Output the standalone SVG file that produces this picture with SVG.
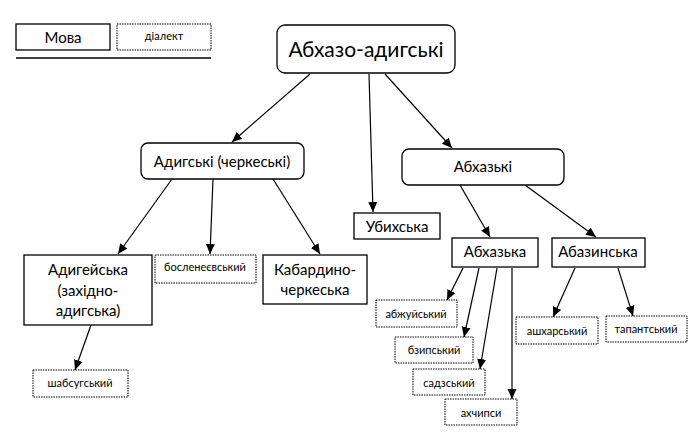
<svg xmlns="http://www.w3.org/2000/svg" width="700" height="433" viewBox="0 0 700 433">
<defs>
<marker id="ah" viewBox="0 0 10 10" refX="10" refY="5" markerWidth="10" markerHeight="10" markerUnits="userSpaceOnUse" orient="auto">
<path d="M0,0.5 L10,5 L0,9.5 Z" fill="#000"/>
</marker>
</defs>
<style>
text{font-family:"Lato","Liberation Sans",sans-serif;fill:#000;text-anchor:middle}
.lang{fill:#fff;stroke:#000;stroke-width:1.3}
.dial{fill:#fff;stroke:#000;stroke-width:1;stroke-dasharray:1.5 1}
.t15{font-size:15px}
.t11{font-size:11px}
#edges line{stroke:#000;stroke-width:1.2;marker-end:url(#ah)}
</style>
<rect width="700" height="433" fill="#fff"/>
<g id="legend">
<rect class="lang" x="16" y="24" width="94" height="26"/>
<text class="t15" x="63" y="43">Мова</text>
<rect class="dial" x="117" y="24" width="94" height="26"/>
<text class="t11" x="164" y="40">діалект</text>
<line x1="16" y1="58" x2="211" y2="58" stroke="#000" stroke-width="1.3"/>
</g>
<g id="edges">
<line x1="310" y1="74" x2="232" y2="142"/>
<line x1="369" y1="74" x2="373" y2="212"/>
<line x1="385" y1="74" x2="452" y2="148"/>
<line x1="172" y1="179" x2="118" y2="254"/>
<line x1="213" y1="179" x2="210" y2="254"/>
<line x1="273" y1="179" x2="320" y2="254"/>
<line x1="460" y1="185" x2="490" y2="237"/>
<line x1="525" y1="185" x2="596" y2="237"/>
<line x1="463" y1="268" x2="447" y2="300"/>
<line x1="479" y1="268" x2="464" y2="337"/>
<line x1="497" y1="268" x2="480" y2="369"/>
<line x1="512" y1="268" x2="512" y2="399"/>
<line x1="575" y1="268" x2="553" y2="317"/>
<line x1="618" y1="268" x2="633" y2="316"/>
<line x1="91" y1="325" x2="75" y2="370"/>
</g>
<g id="n-root">
<rect class="lang" x="277" y="25" width="178" height="48" rx="8"/>
<text x="366" y="57" font-size="21">Абхазо-адигські</text>
</g>
<g id="n-adyg">
<rect class="lang" x="141" y="143" width="163" height="36" rx="7"/>
<text class="t15" x="222" y="167">Адигські (черкеські)</text>
</g>
<g id="n-abkhazian">
<rect class="lang" x="402" y="149" width="162" height="36" rx="7"/>
<text class="t15" x="483" y="172">Абхазькі</text>
</g>
<g id="n-adyghe">
<rect class="lang" x="24" y="255" width="128" height="70"/>
<text class="t15" x="88" y="275">Адигейська</text>
<text class="t15" x="88" y="296">(західно-</text>
<text class="t15" x="88" y="316">адигська)</text>
</g>
<g id="n-boslen">
<rect class="dial" x="155" y="255" width="101" height="28"/>
<text class="t11" x="205" y="271">босленеєвський</text>
</g>
<g id="n-kabard">
<rect class="lang" x="263" y="255" width="104" height="49"/>
<text class="t15" x="315" y="275">Кабардино-</text>
<text class="t15" x="315" y="295">черкеська</text>
</g>
<g id="n-ubykh">
<rect class="lang" x="354" y="213" width="86" height="26"/>
<text class="t15" x="397" y="232">Убихська</text>
</g>
<g id="n-abkhaz">
<rect class="lang" x="452" y="238" width="86" height="29"/>
<text class="t15" x="495" y="257">Абхазька</text>
</g>
<g id="n-abaza">
<rect class="lang" x="552" y="238" width="93" height="29"/>
<text class="t15" x="598" y="257">Абазинська</text>
</g>
<g id="n-abzhui">
<rect class="dial" x="376" y="300" width="81" height="27"/>
<text class="t11" x="416" y="318">абжуйський</text>
</g>
<g id="n-bzyp">
<rect class="dial" x="395" y="337" width="78" height="26"/>
<text class="t11" x="434" y="354">бзипський</text>
</g>
<g id="n-sadz">
<rect class="dial" x="413" y="369" width="72" height="26"/>
<text class="t11" x="449" y="387">садзський</text>
</g>
<g id="n-akhchipsi">
<rect class="dial" x="445" y="399" width="72" height="26"/>
<text class="t11" x="481" y="417">ахчипси</text>
</g>
<g id="n-ashkhar">
<rect class="dial" x="516" y="317" width="82" height="27"/>
<text class="t11" x="557" y="335">ашхарський</text>
</g>
<g id="n-tapanta">
<rect class="dial" x="606" y="316" width="81" height="26"/>
<text class="t11" x="646" y="333">тапантський</text>
</g>
<g id="n-shapsug">
<rect class="dial" x="33" y="370" width="95" height="27"/>
<text class="t11" x="80" y="387">шабсугський</text>
</g>
</svg>
